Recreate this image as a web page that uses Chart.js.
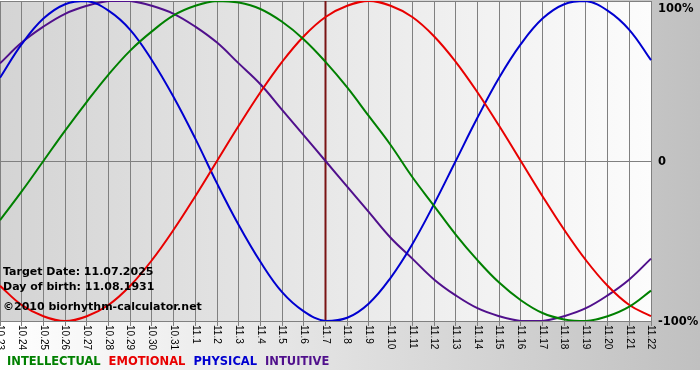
<!DOCTYPE html>
<html>
<head>
<meta charset="utf-8">
<script src="https://cdn.jsdelivr.net/npm/chart.js@4.4.1/dist/chart.umd.min.js"></script>
<style>
html, body { margin: 0; padding: 0; background: #fff; }
</style>
</head>
<body>
<canvas id="bioCanvas" width="700" height="380"></canvas>
<script>
var days = ['10.23','10.24','10.25','10.26','10.27','10.28','10.29','10.30','10.31',
	'11.1','11.2','11.3','11.4','11.5','11.6','11.7','11.8','11.9','11.10','11.11',
	'11.12','11.13','11.14','11.15','11.16','11.17','11.18','11.19','11.20','11.21','11.22'];

var intellectual = [-37,-19,0,19,37,54,69,81,91,97,100,99,95,87,76,62,46,28,10,-10,
	-28,-46,-62,-76,-87,-95,-99,-100,-97,-91,-81];
var emotional = [-78,-90,-97,-100,-97,-90,-78,-62,-43,-22,0,22,43,62,78,90,97,100,97,90,
	78,62,43,22,0,-22,-43,-62,-78,-90,-97];
var physical = [52,73,89,98,100,94,82,63,40,14,-14,-40,-63,-82,-94,-100,-98,-89,-73,-52,
	-27,0,27,52,73,89,98,100,94,82,63];
var intuitive = [61,74,84,92,97,100,100,97,92,84,74,61,48,32,16,0,-16,-32,-48,-61,
	-74,-84,-92,-97,-100,-100,-97,-92,-84,-74,-61];

var seriesNames = ['INTELLECTUAL', 'EMOTIONAL', 'PHYSICAL', 'INTUITIVE'];
var seriesColors = ['#008000', '#e80000', '#0000d0', '#50108c'];
var yTickValues = [100, 0, -100];
var yTickLabels = ['100%', '0', '-100%'];
var targetDay = '11.7';
var infoLines = ['Target Date: 11.07.2025', 'Day of birth: 11.08.1931', '\u00a92010 biorhythm-calculator.net'];

var decorPlugin = {
	id: 'decor',
	beforeDraw: function(chart) {
		var ctx = chart.ctx, a = chart.chartArea;
		ctx.save();
		ctx.fillStyle = '#fff';
		ctx.fillRect(0, 0, chart.width, chart.height);
		var g = ctx.createLinearGradient(0, 0, chart.width, 0);
		g.addColorStop(0, '#ffffff');
		g.addColorStop(1, '#c0c0c0');
		ctx.fillStyle = g;
		ctx.fillRect(0, 0, chart.width, chart.height - 10);
		var g2 = ctx.createLinearGradient(a.left, 0, a.right, 0);
		g2.addColorStop(0, '#d4d4d4');
		g2.addColorStop(1, '#fcfcfc');
		ctx.fillStyle = g2;
		ctx.fillRect(a.left, a.top, a.right - a.left, a.bottom - a.top);
		ctx.restore();
	},
	beforeDatasetsDraw: function(chart) {
		// target date marker
		var ctx = chart.ctx, a = chart.chartArea;
		var x = chart.scales.x.getPixelForValue(days.indexOf(targetDay));
		ctx.save();
		ctx.strokeStyle = '#7a1414';
		ctx.lineWidth = 2;
		ctx.beginPath();
		ctx.moveTo(x, a.top);
		ctx.lineTo(x, a.bottom);
		ctx.stroke();
		ctx.restore();
	},
	afterDraw: function(chart) {
		var ctx = chart.ctx, a = chart.chartArea;
		var xs = chart.scales.x, ys = chart.scales.y;
		ctx.save();

		// day labels, rotated to read downwards
		ctx.fillStyle = '#000';
		ctx.font = '10px "Liberation Sans"';
		ctx.textAlign = 'left';
		ctx.textBaseline = 'middle';
		for (var i = 0; i < days.length; i++) {
			ctx.save();
			ctx.translate(xs.getPixelForTick(i), a.bottom + 4);
			ctx.rotate(Math.PI / 2);
			ctx.fillText(days[i], 0, 0);
			ctx.restore();
		}

		// percent labels on the right
		ctx.font = 'bold 11.5px "DejaVu Sans"';
		for (var j = 0; j < yTickValues.length; j++) {
			var y = Math.max(ys.getPixelForValue(yTickValues[j]), a.top + 7);
			ctx.fillText(yTickLabels[j], a.right + 7, y + 1);
		}

		// info text
		ctx.font = 'bold 11px "DejaVu Sans"';
		ctx.fillText(infoLines[0], 3, a.bottom - 49);
		ctx.fillText(infoLines[1], 3, a.bottom - 34);
		ctx.fillText(infoLines[2], 3, a.bottom - 14);

		// legend
		ctx.font = 'bold 11.5px "DejaVu Sans"';
		var lx = 7;
		for (var k = 0; k < seriesNames.length; k++) {
			ctx.fillStyle = seriesColors[k];
			ctx.fillText(seriesNames[k], lx, a.bottom + 41);
			lx += ctx.measureText(seriesNames[k]).width + 8;
		}
		ctx.restore();
	}
};

function makeSet(label, data, color) {
	return {
		label: label,
		data: data,
		borderColor: color,
		borderWidth: 2,
		pointRadius: 0,
		fill: false,
		tension: 0.4
	};
}

var ctx = document.getElementById('bioCanvas').getContext('2d');
var chart = new Chart(ctx, {
	type: 'line',
	data: {
		labels: days,
		datasets: [
			makeSet(seriesNames[0], intellectual, seriesColors[0]),
			makeSet(seriesNames[1], emotional, seriesColors[1]),
			makeSet(seriesNames[2], physical, seriesColors[2]),
			makeSet(seriesNames[3], intuitive, seriesColors[3])
		]
	},
	options: {
		responsive: false,
		animation: false,
		devicePixelRatio: 1,
		layout: { padding: { top: 1, left: 0, right: 0, bottom: 0 } },
		plugins: { legend: { display: false }, tooltip: { enabled: false } },
		scales: {
			x: {
				offset: false,
				grid: { color: '#808080', lineWidth: 1, drawTicks: true, tickLength: 5 },
				border: { display: true, color: '#808080' },
				ticks: { display: false },
				afterFit: function(s) { s.height = 59; }
			},
			y: {
				position: 'right',
				min: -100,
				max: 100,
				ticks: { display: false, stepSize: 100 },
				grid: { color: '#808080', drawTicks: false },
				border: { display: true, color: '#808080' },
				afterFit: function(s) { s.width = 49; }
			}
		}
	},
	plugins: [decorPlugin]
});
</script>
</body>
</html>
